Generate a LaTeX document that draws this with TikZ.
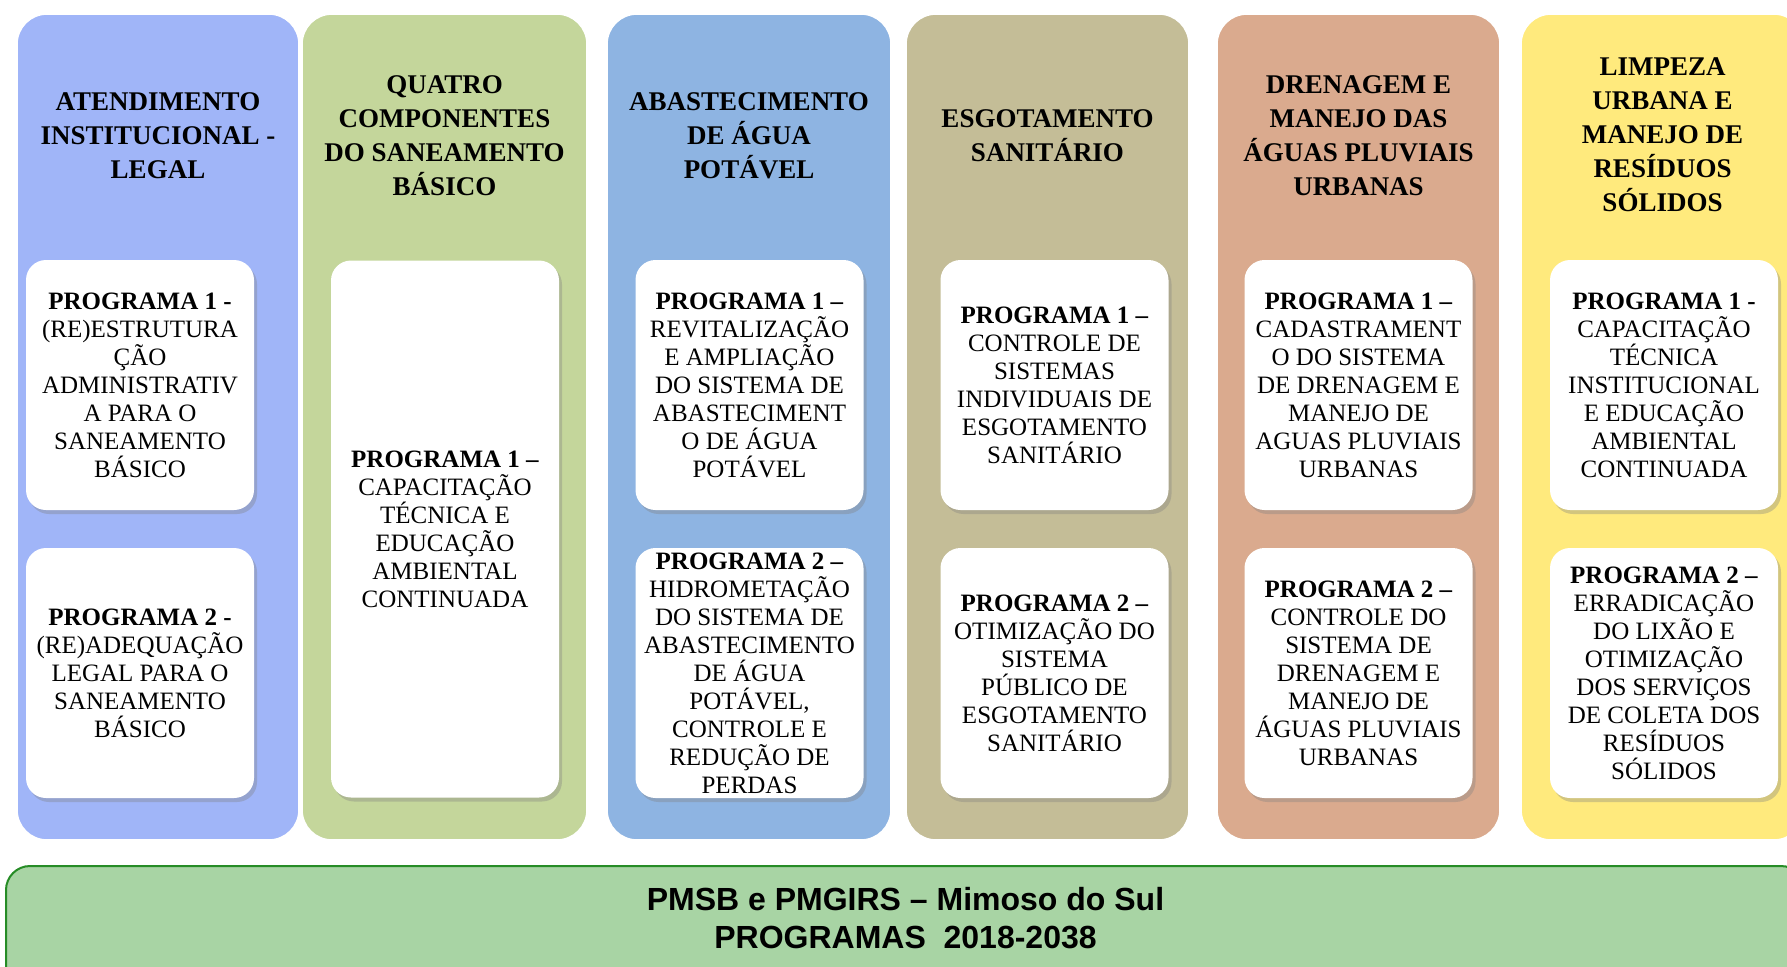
\documentclass[tikz,border=0pt]{standalone}
\usepackage{fontspec}
\setmainfont{Liberation Serif}
\newfontfamily\barfont{Liberation Sans}
\usetikzlibrary{shadows}

\definecolor{colA}{RGB}{160,181,248}
\definecolor{colB}{RGB}{196,214,155}
\definecolor{colC}{RGB}{142,180,226}
\definecolor{colD}{RGB}{196,189,151}
\definecolor{colE}{RGB}{218,170,142}
\definecolor{colF}{RGB}{255,234,125}
\definecolor{barfill}{RGB}{168,212,164}
\definecolor{barline}{RGB}{38,140,38}

\begin{document}
\begin{tikzpicture}
  [x=0.5pt, y=-0.5pt,
   column/.style={rounded corners=15pt, draw=white, line width=0.8pt},
   heading/.style={align=center, inner sep=0pt,
     font=\bfseries\fontsize{13.5}{17}\selectfont},
   progbox/.style={fill=white, rounded corners=10pt, align=center, inner sep=2pt,
     minimum width=114pt, minimum height=125pt,
     font=\fontsize{12.5}{14}\selectfont,
     drop shadow={opacity=0.35, shadow xshift=1.5pt, shadow yshift=-2pt}},
   tallbox/.style={progbox, minimum height=268.5pt}]
  \clip (0,0) rectangle (1787,966);
  % Column 1: institutional and legal
  \draw[column, fill=colA] (17,14) rectangle (299,840);
  \node[heading] (h1) at (158,136) {ATENDIMENTO\\INSTITUCIONAL -\\LEGAL};
  \node[progbox] (p1a) at (140,385) {\textbf{PROGRAMA 1 -}\\(RE)ESTRUTURA\\ÇÃO\\ADMINISTRATIV\\A PARA O\\SANEAMENTO\\BÁSICO};
  \node[progbox] (p1b) at (140,673) {\textbf{PROGRAMA 2 -}\\(RE)ADEQUAÇÃO\\LEGAL PARA O\\SANEAMENTO\\BÁSICO};
  % Column 2: the four components together
  \draw[column, fill=colB] (302,14) rectangle (587,840);
  \node[heading] (h2) at (444.5,136) {QUATRO\\COMPONENTES\\DO SANEAMENTO\\BÁSICO};
  \node[tallbox] (p2a) at (445,529) {\textbf{PROGRAMA 1 –}\\CAPACITAÇÃO\\TÉCNICA E\\EDUCAÇÃO\\AMBIENTAL\\CONTINUADA};
  % Column 3: water supply
  \draw[column, fill=colC] (607,14) rectangle (891,840);
  \node[heading] (h3) at (749,136) {ABASTECIMENTO\\DE ÁGUA\\POTÁVEL};
  \node[progbox] (p3a) at (749.5,385) {\textbf{PROGRAMA 1 –}\\REVITALIZAÇÃO\\E AMPLIAÇÃO\\DO SISTEMA DE\\ABASTECIMENT\\O DE ÁGUA\\POTÁVEL};
  \node[progbox] (p3b) at (749.5,673) {\textbf{PROGRAMA 2 –}\\HIDROMETAÇÃO\\DO SISTEMA DE\\ABASTECIMENTO\\DE ÁGUA\\POTÁVEL,\\CONTROLE E\\REDUÇÃO DE\\PERDAS};
  % Column 4: sewage
  \draw[column, fill=colD] (906,14) rectangle (1189,840);
  \node[heading] (h4) at (1047.5,136) {ESGOTAMENTO\\SANITÁRIO};
  \node[progbox] (p4a) at (1054.5,385) {\textbf{PROGRAMA 1 –}\\CONTROLE DE\\SISTEMAS\\INDIVIDUAIS DE\\ESGOTAMENTO\\SANITÁRIO};
  \node[progbox] (p4b) at (1054.5,673) {\textbf{PROGRAMA 2 –}\\OTIMIZAÇÃO DO\\SISTEMA\\PÚBLICO DE\\ESGOTAMENTO\\SANITÁRIO};
  % Column 5: drainage
  \draw[column, fill=colE] (1217,14) rectangle (1500,840);
  \node[heading] (h5) at (1358.5,136) {DRENAGEM E\\MANEJO DAS\\ÁGUAS PLUVIAIS\\URBANAS};
  \node[progbox] (p5a) at (1358.5,385) {\textbf{PROGRAMA 1 –}\\CADASTRAMENT\\O DO SISTEMA\\DE DRENAGEM E\\MANEJO DE\\AGUAS PLUVIAIS\\URBANAS};
  \node[progbox] (p5b) at (1358.5,673) {\textbf{PROGRAMA 2 –}\\CONTROLE DO\\SISTEMA DE\\DRENAGEM E\\MANEJO DE\\ÁGUAS PLUVIAIS\\URBANAS};
  % Column 6: solid waste, cut at the right edge
  \draw[column, fill=colF] (1521,14) rectangle (1804,840);
  \node[heading] (h6) at (1662.5,135) {LIMPEZA\\URBANA E\\MANEJO DE\\RESÍDUOS\\SÓLIDOS};
  \node[progbox] (p6a) at (1664,385) {\textbf{PROGRAMA 1 -}\\CAPACITAÇÃO\\TÉCNICA\\INSTITUCIONAL\\E EDUCAÇÃO\\AMBIENTAL\\CONTINUADA};
  \node[progbox] (p6b) at (1664,673) {\textbf{PROGRAMA 2 –}\\ERRADICAÇÃO\\DO LIXÃO E\\OTIMIZAÇÃO\\DOS SERVIÇOS\\DE COLETA DOS\\RESÍDUOS\\SÓLIDOS};
  % Bottom bar with the plan title
  \draw[fill=barfill, draw=barline, line width=1pt, rounded corners=12pt]
    (6,866) rectangle (1805,1000);
  \node[align=center, font=\barfont\bfseries\fontsize{16}{19}\selectfont]
    (title) at (905.5,918) {PMSB e PMGIRS – Mimoso do Sul\\PROGRAMAS~~2018-2038};
\end{tikzpicture}
\end{document}
